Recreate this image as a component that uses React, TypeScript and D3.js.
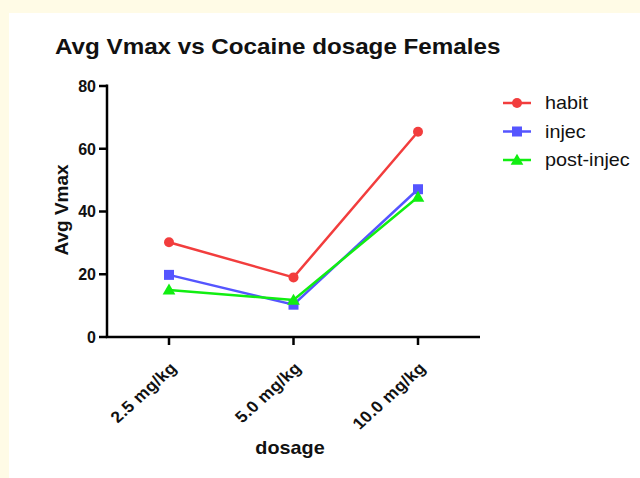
import React from "react";
import * as d3 from "d3";

const categories = ["2.5 mg/kg", "5.0 mg/kg", "10.0 mg/kg"];
const seriesNames = ["habit", "injec", "post-injec"];
const habit = [30.2, 19.0, 65.4];
const injec = [19.8, 10.3, 47.1];
const postInjec = [15.0, 11.8, 44.6];
const yTicks = [0, 20, 40, 60, 80];
const colors = ["#f23d3d", "#5555ff", "#11ee11"];

const font = "'Liberation Sans', Arial, sans-serif";
const SX = 1.1;

function Marker({ kind, x, y, color }: { kind: number; x: number; y: number; color: string }) {
  if (kind === 0) return <circle cx={x} cy={y} r={5} fill={color} />;
  if (kind === 1) return <rect x={x - 5} y={y - 5} width={10} height={10} fill={color} />;
  const s = d3.symbol(d3.symbolTriangle, 70)();
  return <path d={s as string} transform={`translate(${x},${y + 1})`} fill={color} />;
}

export default function App() {
  const W = 640, H = 478;
  const x = d3.scalePoint<string>().domain(categories).range([169, 418]);
  const y = d3.scaleLinear().domain([0, 80]).range([337, 86]);
  const data = [habit, injec, postInjec];
  const line = d3.line<number>().x((_, i) => x(categories[i]) as number).y((d) => y(d));

  return (
    <svg width={W} height={H} style={{ position: "absolute", left: 0, top: 0 }}>
      <rect x={0} y={0} width={W} height={H} fill="#fffbe6" />
      <rect x={9} y={13} width={W - 9} height={H - 13} fill="#ffffff" />
      <text transform={`translate(55,54) scale(${SX},1)`} fontFamily={font} fontWeight="bold" fontSize={22} fill="#111">
        Avg Vmax vs Cocaine dosage Females
      </text>
      {/* axes */}
      <line x1={107} y1={84.5} x2={107} y2={337} stroke="#000" strokeWidth={2.5} />
      <line x1={105.8} y1={337} x2={480} y2={337} stroke="#000" strokeWidth={2.5} />
      {yTicks.map((t) => (
        <g key={t}>
          <line x1={99} x2={107} y1={y(t)} y2={y(t)} stroke="#000" strokeWidth={2.5} />
          <text x={96} y={y(t)} dy="0.36em" textAnchor="end" fontFamily={font} fontWeight="bold" fontSize={16} fill="#111">
            {t}
          </text>
        </g>
      ))}
      {categories.map((c) => (
        <g key={c}>
          <line x1={x(c)} x2={x(c)} y1={337} y2={345} stroke="#000" strokeWidth={2.5} />
          <text
            transform={`translate(${(x(c) as number) + 9},${369}) scale(${SX},1) rotate(-45)`}
            textAnchor="end"
            fontFamily={font}
            fontWeight="bold"
            fontSize={16}
            letterSpacing={0.4}
            fill="#111"
          >
            {c}
          </text>
        </g>
      ))}
      <text transform={`translate(290,454) scale(${SX},1)`} textAnchor="middle" fontFamily={font} fontWeight="bold" fontSize={18} fill="#111">
        dosage
      </text>
      <text transform="translate(68,210) rotate(-90)" textAnchor="middle" fontFamily={font} fontWeight="bold" fontSize={19} fill="#111">
        Avg Vmax
      </text>
      {data.map((vals, si) => (
        <g key={si}>
          <path d={line(vals) as string} fill="none" stroke={colors[si]} strokeWidth={2.5} />
          {vals.map((v, i) => (
            <Marker key={i} kind={si} x={x(categories[i]) as number} y={y(v)} color={colors[si]} />
          ))}
        </g>
      ))}
      {seriesNames.map((n, si) => {
        const ly = 103 + si * 28.5;
        return (
          <g key={n}>
            <line x1={503} x2={531} y1={ly} y2={ly} stroke={colors[si]} strokeWidth={2.5} />
            <Marker kind={si} x={517} y={ly} color={colors[si]} />
            <text transform={`translate(545,${ly}) scale(${SX},1)`} dy="0.35em" fontFamily={font} fontSize={18} fill="#111">
              {n}
            </text>
          </g>
        );
      })}
    </svg>
  );
}
